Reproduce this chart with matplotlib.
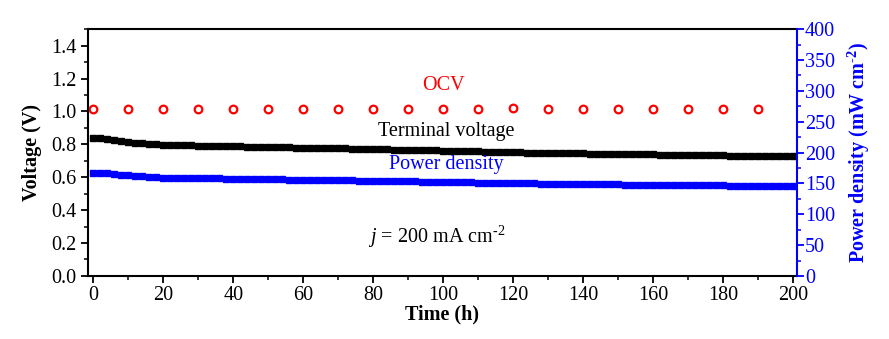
import numpy as np
import matplotlib
matplotlib.use("Agg")
import matplotlib.pyplot as plt
from matplotlib.ticker import MultipleLocator, FormatStrFormatter

plt.rcParams['font.family'] = ['Liberation Serif', 'DejaVu Serif']
plt.rcParams['mathtext.fontset'] = 'custom'
plt.rcParams['mathtext.rm'] = 'Liberation Serif'
plt.rcParams['mathtext.it'] = 'Liberation Serif:italic'
plt.rcParams['mathtext.bf'] = 'Liberation Serif:bold'

# Time points (h)
time_h = list(range(0, 201, 2))

# Terminal voltage (V), read every 2 h
voltage = [0.838, 0.836, 0.831, 0.826, 0.821, 0.816, 0.811, 0.806, 0.802, 0.799,
           0.797, 0.796, 0.795, 0.794, 0.793, 0.792, 0.791, 0.790, 0.790, 0.789,
           0.788, 0.787, 0.786, 0.786, 0.785, 0.784, 0.783, 0.782, 0.781, 0.780,
           0.780, 0.779, 0.778, 0.777, 0.776, 0.776, 0.775, 0.774, 0.773, 0.772,
           0.771, 0.770, 0.769, 0.768, 0.768, 0.767, 0.766, 0.765, 0.764, 0.763,
           0.762, 0.761, 0.760, 0.759, 0.758, 0.757, 0.756, 0.755, 0.754, 0.753,
           0.752, 0.751, 0.750, 0.750, 0.749, 0.748, 0.748, 0.747, 0.746, 0.746,
           0.745, 0.744, 0.744, 0.743, 0.742, 0.742, 0.741, 0.740, 0.740, 0.739,
           0.739, 0.738, 0.737, 0.737, 0.736, 0.736, 0.735, 0.734, 0.734, 0.733,
           0.733, 0.732, 0.732, 0.731, 0.731, 0.730, 0.730, 0.729, 0.729, 0.729,
           0.728]

# Power density (mW cm-2), read every 2 h
power = [167.6, 167.2, 166.2, 165.2, 164.2, 163.2, 162.2, 161.2, 160.4, 159.8,
         159.4, 159.2, 159.0, 158.8, 158.6, 158.4, 158.2, 158.0, 158.0, 157.8,
         157.6, 157.4, 157.2, 157.2, 157.0, 156.8, 156.6, 156.4, 156.2, 156.0,
         156.0, 155.8, 155.6, 155.4, 155.2, 155.2, 155.0, 154.8, 154.6, 154.4,
         154.2, 154.0, 153.8, 153.6, 153.6, 153.4, 153.2, 153.0, 152.8, 152.6,
         152.4, 152.2, 152.0, 151.8, 151.6, 151.4, 151.2, 151.0, 150.8, 150.6,
         150.4, 150.2, 150.0, 150.0, 149.8, 149.6, 149.6, 149.4, 149.2, 149.2,
         149.0, 148.8, 148.8, 148.6, 148.4, 148.4, 148.2, 148.0, 148.0, 147.8,
         147.8, 147.6, 147.4, 147.4, 147.2, 147.2, 147.0, 146.8, 146.8, 146.6,
         146.6, 146.4, 146.4, 146.2, 146.2, 146.0, 146.0, 145.8, 145.8, 145.8,
         145.6]

# Open-circuit voltage (V), every 10 h
ocv_time = list(range(0, 191, 10))
ocv = [1.016, 1.016, 1.017, 1.016, 1.017, 1.017, 1.016, 1.017, 1.016, 1.016,
       1.017, 1.016, 1.020, 1.016, 1.016, 1.016, 1.016, 1.016, 1.016, 1.016]

fig = plt.figure(figsize=(8.89, 3.39), dpi=100)
ax = fig.add_axes([0.099, 0.186, 0.797, 0.728])
ax2 = ax.twinx()

ax.plot(ocv_time, ocv, 'o', mfc='none', mec='red', mew=1.6, ms=5.5, ls='none')
ax.plot(time_h, voltage, 's', color='black', ms=3.9, ls='none')
ax2.plot(time_h, power, 's', color='blue', ms=3.9, ls='none')

ax.set_xlim(-1.5, 201)
ax.set_ylim(0, 1.5)
ax2.set_ylim(0, 400)

ax.xaxis.set_major_locator(MultipleLocator(20))
ax.xaxis.set_minor_locator(MultipleLocator(10))
ax.yaxis.set_major_locator(MultipleLocator(0.2))
ax.yaxis.set_minor_locator(MultipleLocator(0.1))
ax2.yaxis.set_major_locator(MultipleLocator(50))
ax2.yaxis.set_minor_locator(MultipleLocator(25))
ax.yaxis.set_major_formatter(FormatStrFormatter('%.1f'))

ax.tick_params(axis='both', which='major', direction='out', length=5, width=1.3, labelsize=14.5)
ax.tick_params(axis='both', which='minor', direction='out', length=3, width=1.1)
ax.tick_params(axis='x', pad=2)
ax2.tick_params(axis='y', which='major', direction='out', length=5, width=1.3,
                labelsize=14.5, colors='blue', pad=1)
ax2.tick_params(axis='y', which='minor', direction='out', length=3, width=1.1, colors='blue')

for s in ['left', 'bottom', 'top']:
    ax.spines[s].set_linewidth(1.5)
ax2.spines['right'].set_color('blue')
ax2.spines['right'].set_linewidth(1.5)
ax.spines['right'].set_visible(False)
for s in ['left', 'bottom', 'top']:
    ax2.spines[s].set_visible(False)

ax.set_xlabel('Time (h)', fontsize=14.5, fontweight='bold', labelpad=0)
ax.set_ylabel('Voltage (V)', fontsize=14.5, fontweight='bold', labelpad=6)
ax2.set_ylabel('Power density (mW cm$^{\\mathbf{\u2010 2}}$)', fontsize=14.5, fontweight='bold',
               color='blue', labelpad=8)

ax.text(100, 1.16, 'OCV', color='red', fontsize=14.5, ha='center', va='center')
ax.text(101, 0.875, 'Terminal voltage', color='black', fontsize=14.5, ha='center', va='center')
ax.text(101, 0.675, 'Power density', color='blue', fontsize=14.5, ha='center', va='center')
ax.text(78.5, 0.237, '$j$ = 200 mA cm$^{\\mathrm{\u2010 2}}$', color='black', fontsize=14.5,
        ha='left', va='center')

fig.savefig('out.png', dpi=100)
